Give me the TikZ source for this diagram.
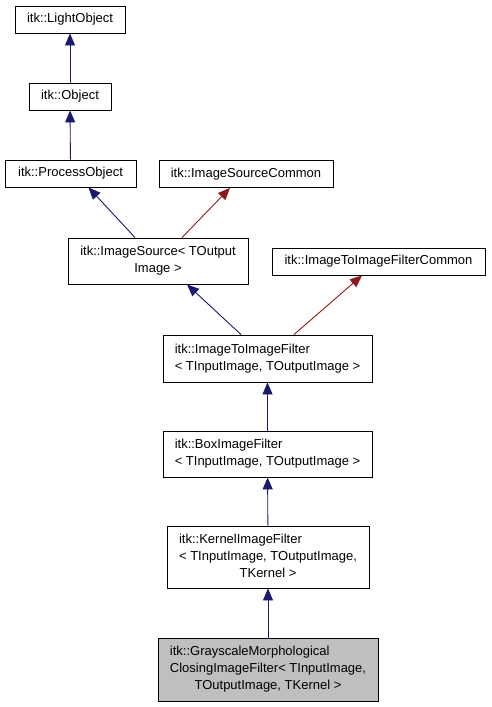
\documentclass[tikz,border=0pt]{standalone}
\usepackage{fontspec}
\setmainfont{Liberation Sans}
\usetikzlibrary{arrows.meta}

\begin{document}
\begin{tikzpicture}[x=1pt, y=-1pt]
\tikzset{boite/.style={draw, line width=0.9pt, fill=white, inner sep=0pt, font=\fontsize{13}{17}\selectfont},
  boitegrise/.style={boite, fill=black!25},
  herite/.style={draw=bleunuit, line width=0.9pt, -{Triangle[length=12pt, width=10pt, fill=bleunuit]}},
  herpriv/.style={draw=rougebrique, line width=0.9pt, -{Triangle[length=12pt, width=10pt, fill=rougebrique]}}}
\definecolor{bleunuit}{HTML}{191970}
\definecolor{rougebrique}{HTML}{8B1A1A}
\useasboundingbox (0, 0) rectangle (491, 707);
\node[boite, minimum width=110pt, minimum height=27pt] (LO) at (70, 19.5) {itk::LightObject};
\node[boite, minimum width=82pt, minimum height=27pt] (OB) at (70, 96.5) {itk::Object};
\node[boite, minimum width=131pt, minimum height=27pt] (PO) at (70.5, 173.5) {itk::ProcessObject};
\node[boite, minimum width=174pt, minimum height=27pt] (ISC) at (246, 174) {itk::ImageSourceCommon};
\node[boite, minimum width=180pt, minimum height=46pt] (IS) at (158, 261) {\begin{tabular}{@{}c@{}}itk::ImageSource< TOutput\\ Image >\end{tabular}};
\node[boite, minimum width=213pt, minimum height=27pt] (IFC) at (378.5, 261.5) {itk::ImageToImageFilterCommon};
\node[boite, minimum width=209pt, minimum height=47pt] (IF) at (267.5, 358.5) {\begin{tabular}{@{}l@{}}itk::ImageToImageFilter\\ < TInputImage, TOutputImage >\end{tabular}};
\node[boite, minimum width=209pt, minimum height=46pt] (BF) at (267.5, 454) {\begin{tabular}{@{}l@{}}itk::BoxImageFilter\\ < TInputImage, TOutputImage >\end{tabular}};
\node[boite, minimum width=202pt, minimum height=62pt] (KF) at (268, 557) {\begin{tabular}{@{}c@{}}\rlap{itk::KernelImageFilter}\hphantom{< TInputImage, TOutputImage,}\\ < TInputImage, TOutputImage,\\ TKernel >\end{tabular}};
\node[boitegrise, minimum width=220pt, minimum height=63pt] (GF) at (268, 669.5) {\begin{tabular}{@{}c@{}}\rlap{itk::GrayscaleMorphological}\hphantom{ClosingImageFilter< TInputImage,}\\ ClosingImageFilter< TInputImage,\\ TOutputImage, TKernel >\end{tabular}};
\draw[herite] (OB) -- (LO);
\draw[herite] (PO) -- (OB);
\draw[herite] ([xshift=-23pt]IS.north) -- ([xshift=18pt]PO.south);
\draw[herpriv] ([xshift=24pt]IS.north) -- ([xshift=-16pt]ISC.south);
\draw[herite] ([xshift=-26.5pt]IF.north) -- ([xshift=29pt]IS.south);
\draw[herpriv] ([xshift=26.5pt]IF.north) -- ([xshift=-16.5pt]IFC.south);
\draw[herite] (BF) -- (IF);
\draw[herite] (KF) -- (BF);
\draw[herite] (GF) -- (KF);
\end{tikzpicture}
\end{document}
